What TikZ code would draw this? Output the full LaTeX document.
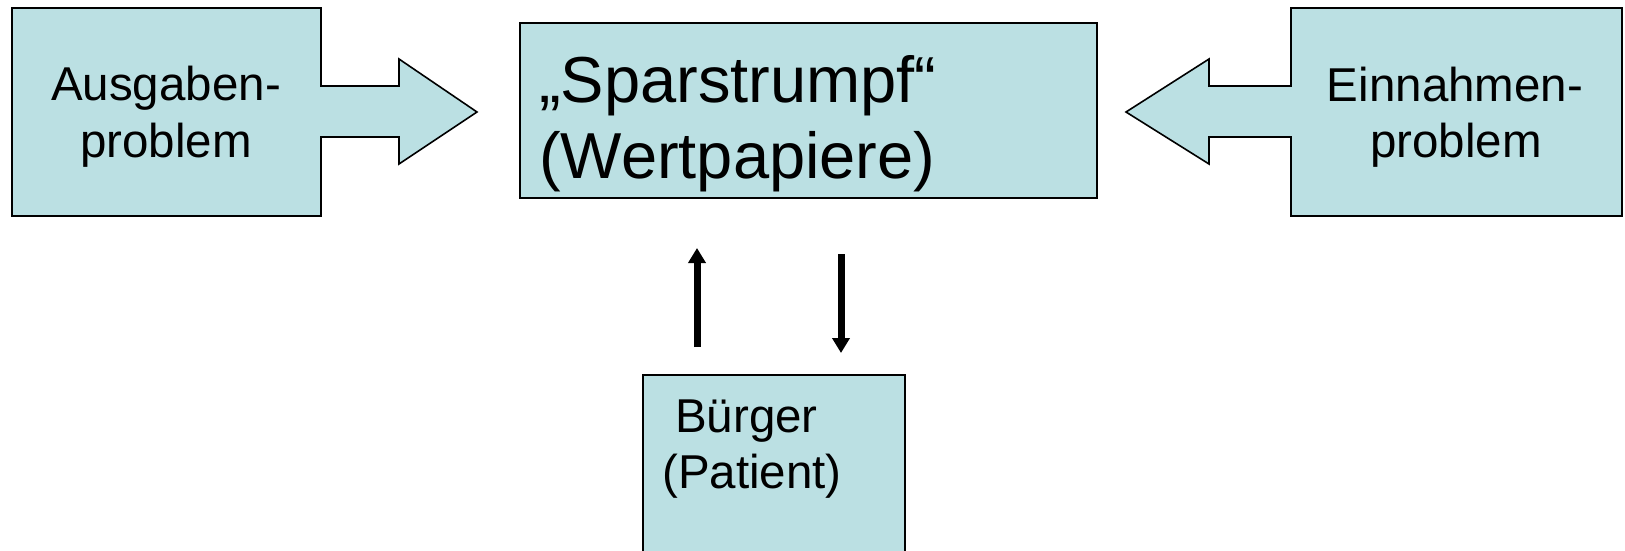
\documentclass[tikz,border=0pt]{standalone}
\usepackage{fontspec}
\setmainfont{Liberation Sans}
\usetikzlibrary{arrows.meta}
\definecolor{boxfill}{RGB}{187,224,227}
\begin{document}
\begin{tikzpicture}[x=1pt,y=-1pt,
  shapebox/.style={draw=black, fill=boxfill, line width=1.6pt, line join=miter},
  rectbox/.style={shapebox, rectangle, inner sep=0pt},
  bigtext/.style={font=\fontsize{65}{78}\selectfont, inner sep=0pt, anchor=base west},
  midtext/.style={font=\fontsize{47.5}{57}\selectfont, inner sep=0pt, anchor=base},
  lowtext/.style={font=\fontsize{47.5}{57}\selectfont, inner sep=0pt, anchor=base west},
  flowarrow/.style={line width=7pt, -{Triangle[length=15pt,width=17pt]}}]
\useasboundingbox (0,0) rectangle (1625,550);

% left block arrow
\draw[shapebox] (12,8) -- (321,8) -- (321,86) -- (399,86) -- (399,59) -- (477,112)
  -- (399,164) -- (399,137) -- (321,137) -- (321,216) -- (12,216) -- cycle;
\node[midtext] (ausA) at (166,100) {Ausgaben-};
\node[midtext] (ausB) at (166,157) {problem};

% right block arrow
\draw[shapebox] (1622,8) -- (1291,8) -- (1291,86) -- (1209,86) -- (1209,59) -- (1126,112)
  -- (1209,164) -- (1209,137) -- (1291,137) -- (1291,216) -- (1622,216) -- cycle;
\node[midtext] (einA) at (1455,101) {Einnahmen-};
\node[midtext] (einB) at (1456,157) {problem};

% middle box
\node[rectbox, minimum width=577pt, minimum height=175pt] (spar) at (808.5,110.5) {};
\node[bigtext] (sparA) at (539,102) {„Sparstrumpf“};
\node[bigtext] (sparB) at (539,178) {(Wertpapiere)};

% bottom box
\node[rectbox, minimum width=262pt, minimum height=185pt] (buerger) at (774,467.5) {};
\node[lowtext] (buA) at (675,432) {Bürger};
\node[lowtext] (buB) at (662,488) {(Patient)};

% small arrows
\coordinate (upS) at (697,347);
\coordinate (upE) at (697,248);
\coordinate (dnS) at (841,254);
\coordinate (dnE) at (841,353);
\draw[flowarrow] (upS) -- (upE);
\draw[flowarrow] (dnS) -- (dnE);
\end{tikzpicture}
\end{document}
